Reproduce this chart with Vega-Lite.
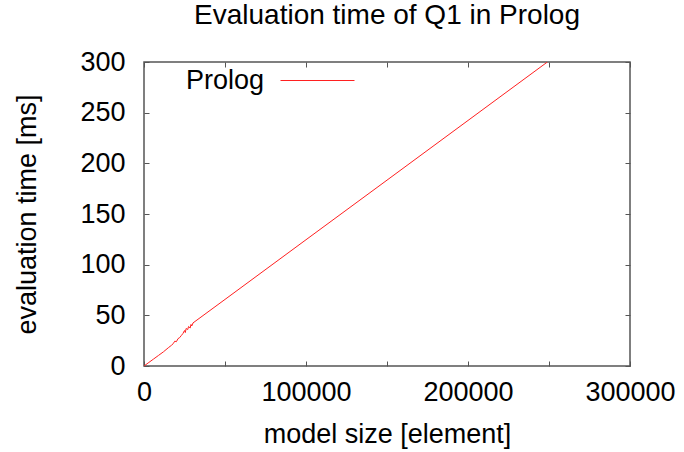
{
  "$schema": "https://vega.github.io/schema/vega-lite/v6.json",
  "width": 486,
  "height": 304,
  "autosize": {"type": "none"},
  "padding": {"left": 144, "top": 62, "right": 54, "bottom": 86},
  "background": "white",
  "title": {"text": "Evaluation time of Q1 in Prolog", "font": "Liberation Sans", "fontSize": 28, "fontWeight": "normal", "color": "#000000", "anchor": "middle", "offset": 13},
  "config": {
    "view": {"stroke": "#555555", "strokeWidth": 1.5},
    "axis": {"grid": false, "domain": false, "tickColor": "#555555", "tickSize": -5, "labelFont": "Liberation Sans", "labelFontSize": 27, "labelColor": "#000000", "titleFont": "Liberation Sans", "titleFontSize": 27, "titleFontWeight": "normal", "titleColor": "#000000"}
  },
  "data": {"values": [
    {"size": 0, "time": 0, "series": "Prolog"},
    {"size": 3000, "time": 3.5, "series": "Prolog"},
    {"size": 6000, "time": 7, "series": "Prolog"},
    {"size": 9000, "time": 10.5, "series": "Prolog"},
    {"size": 12000, "time": 14, "series": "Prolog"},
    {"size": 15000, "time": 18, "series": "Prolog"},
    {"size": 17000, "time": 20.5, "series": "Prolog"},
    {"size": 18000, "time": 22, "series": "Prolog"},
    {"size": 19000, "time": 24.5, "series": "Prolog"},
    {"size": 20000, "time": 24, "series": "Prolog"},
    {"size": 21000, "time": 27, "series": "Prolog"},
    {"size": 22000, "time": 28, "series": "Prolog"},
    {"size": 23000, "time": 30, "series": "Prolog"},
    {"size": 24000, "time": 32, "series": "Prolog"},
    {"size": 25000, "time": 35, "series": "Prolog"},
    {"size": 25500, "time": 33, "series": "Prolog"},
    {"size": 26000, "time": 37, "series": "Prolog"},
    {"size": 27000, "time": 36, "series": "Prolog"},
    {"size": 27500, "time": 39, "series": "Prolog"},
    {"size": 28500, "time": 37.5, "series": "Prolog"},
    {"size": 29000, "time": 41, "series": "Prolog"},
    {"size": 29500, "time": 39.5, "series": "Prolog"},
    {"size": 30250, "time": 42.5, "series": "Prolog"},
    {"size": 50000, "time": 65.7, "series": "Prolog"},
    {"size": 100000, "time": 124.6, "series": "Prolog"},
    {"size": 150000, "time": 183.4, "series": "Prolog"},
    {"size": 200000, "time": 242.3, "series": "Prolog"},
    {"size": 249000, "time": 300, "series": "Prolog"}
  ]},
  "layer": [
    {
      "mark": {"type": "line", "strokeWidth": 1, "clip": true},
      "encoding": {
        "x": {"field": "size", "type": "quantitative", "scale": {"domain": [0, 300000], "nice": false},
          "axis": {"title": "model size [element]", "values": [0, 50000, 100000, 150000, 200000, 250000, 300000], "labelExpr": "datum.value % 100000 == 0 ? format(datum.value, 'd') : ''", "labelPadding": 18, "titlePadding": 16, "labelFlush": false}},
        "y": {"field": "time", "type": "quantitative", "scale": {"domain": [0, 300], "nice": false},
          "axis": {"title": "evaluation time [ms]", "values": [0, 50, 100, 150, 200, 250, 300], "labelPadding": 24, "titlePadding": 38}},
        "color": {"field": "series", "type": "nominal", "scale": {"range": ["#ff2020"]},
          "legend": {"orient": "none", "legendX": 136, "legendY": -19, "title": null, "symbolType": "stroke", "symbolSize": 5476, "symbolStrokeWidth": 1, "labelFont": "Liberation Sans", "labelFontSize": 27, "labelColor": "#000000", "labelAlign": "right", "labelOffset": -91, "padding": 0}}
      }
    },
    {
      "mark": {"type": "line", "strokeWidth": 1, "clip": true, "opacity": 0},
      "encoding": {
        "x": {"field": "size", "type": "quantitative", "axis": {"orient": "top", "title": null, "labels": false, "values": [0, 50000, 100000, 150000, 200000, 250000, 300000]}},
        "y": {"field": "time", "type": "quantitative", "axis": {"orient": "right", "title": null, "labels": false, "values": [0, 50, 100, 150, 200, 250, 300]}}
      }
    }
  ],
  "resolve": {"axis": {"x": "independent", "y": "independent"}}
}
